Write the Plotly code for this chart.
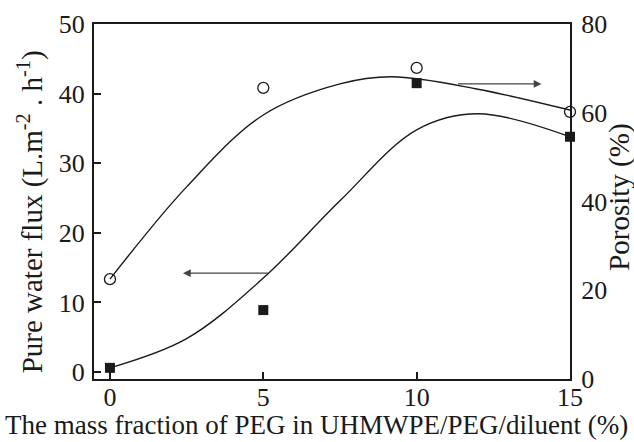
import plotly.graph_objects as go

# Measured data
peg = [0, 5, 10, 15]
flux = [0.6, 8.9, 41.5, 33.8]
porosity = [22.5, 65.6, 70.1, 60.2]

# Fitted curves
flux_fit_x = [0, 2.5, 5, 7.5, 10, 12, 15]
flux_fit_y = [0.6, 4.8, 13.5, 24.6, 34.8, 37.1, 33.8]
por_fit_x = [0, 2.5, 5, 7.5, 9.2, 12, 15]
por_fit_y = [22.5, 43.3, 59.5, 66.5, 68.1, 65.3, 60.6]

x_ticks = [0, 5, 10, 15]
flux_ticks = [0, 10, 20, 30, 40, 50]
por_ticks = [0, 20, 40, 60, 80]

x_title = "The mass fraction of PEG in UHMWPE/PEG/diluent (%)"
y_title = "Pure water flux (L.m<sup>-2</sup> . h<sup>-1</sup>)"
y2_title = "Porosity (%)"

FONT = "Liberation Serif"
INK = "#1a1a1a"

fig = go.Figure()
fig.add_trace(go.Scatter(x=flux_fit_x, y=flux_fit_y, mode="lines",
                         line=dict(color=INK, width=1.4, shape="spline", smoothing=1.0),
                         showlegend=False, hoverinfo="skip"))
fig.add_trace(go.Scatter(x=por_fit_x, y=por_fit_y, mode="lines", yaxis="y2",
                         line=dict(color=INK, width=1.4, shape="spline", smoothing=1.0),
                         showlegend=False, hoverinfo="skip"))
fig.add_trace(go.Scatter(x=peg, y=flux, mode="markers",
                         marker=dict(symbol="square", size=10, color=INK),
                         showlegend=False, cliponaxis=False))
fig.add_trace(go.Scatter(x=peg, y=porosity, mode="markers", yaxis="y2",
                         marker=dict(symbol="circle-open", size=11, color=INK,
                                     line=dict(width=1.3, color=INK)),
                         showlegend=False, cliponaxis=False))

arrow_style = dict(showarrow=True, arrowhead=2, arrowsize=1.2, arrowwidth=1.3,
                   arrowcolor="#444444", text="")
fig.add_annotation(x=2.38, y=14.2, ax=5.2, ay=14.2, xref="x", yref="y",
                   axref="x", ayref="y", **arrow_style)
fig.add_annotation(x=14.07, y=66.5, ax=11.3, ay=66.5, xref="x", yref="y2",
                   axref="x", ayref="y2", **arrow_style)

# Axis titles as annotations
fig.add_annotation(text=x_title, xref="paper", yref="paper", x=0.468, y=-0.13,
                   xanchor="center", yanchor="middle", showarrow=False,
                   font=dict(size=27, family=FONT, color=INK))
fig.add_annotation(text=y_title, xref="paper", yref="paper", x=-0.134, y=0.47,
                   xanchor="center", yanchor="middle", showarrow=False, textangle=-90,
                   font=dict(size=29, family=FONT, color=INK))
fig.add_annotation(text=y2_title, xref="paper", yref="paper", x=1.105, y=0.513,
                   xanchor="center", yanchor="middle", showarrow=False, textangle=-90,
                   font=dict(size=29, family=FONT, color=INK))

fig.update_layout(
    width=634, height=442,
    margin=dict(l=94, r=64, t=24, b=63),
    paper_bgcolor="white", plot_bgcolor="white",
    font=dict(family=FONT, size=26, color=INK),
    xaxis=dict(range=[-0.52, 15], tickvals=x_ticks, showline=True, linewidth=2,
               linecolor=INK, mirror=True, ticks="inside", ticklen=7, tickwidth=1.5,
               tickcolor=INK, showgrid=False, zeroline=False, ticklabelstandoff=-6,
               automargin=False),
    yaxis=dict(range=[-1.0, 50], tickvals=flux_ticks, showline=True, linewidth=2,
               linecolor=INK, ticks="inside", ticklen=7, tickwidth=1.5, tickcolor=INK,
               showgrid=False, zeroline=False, ticklabelstandoff=2, automargin=False),
    yaxis2=dict(range=[0, 80], tickvals=por_ticks, overlaying="y", side="right",
                showline=True, linewidth=2, linecolor=INK, ticks="",
                showgrid=False, zeroline=False, ticklabelstandoff=4, automargin=False),
)

fig.write_html("out.html")
